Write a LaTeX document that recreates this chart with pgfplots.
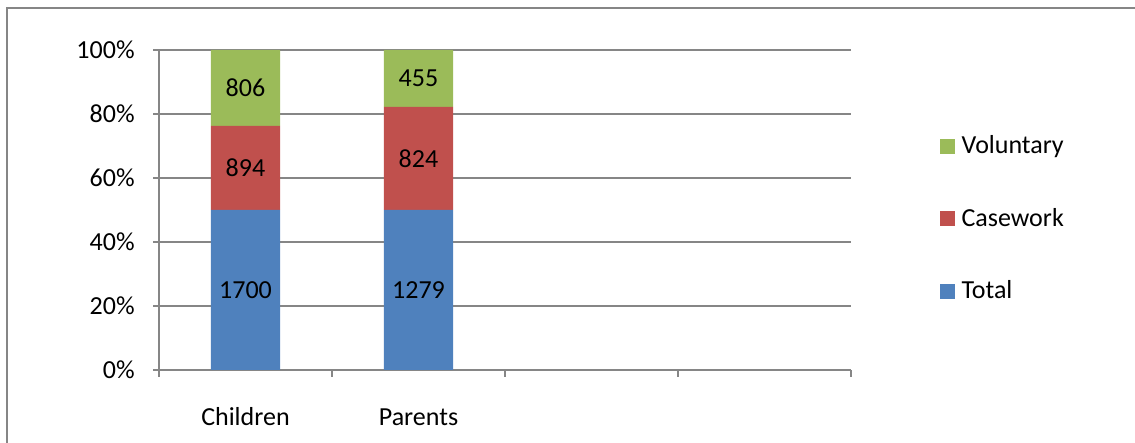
\documentclass[border=0pt]{standalone}
\usepackage{pgfplots}
\pgfplotsset{compat=1.18}
\usepackage{fontspec}
\setmainfont{Carlito}
\definecolor{cTotal}{HTML}{4F81BD}
\definecolor{cCase}{HTML}{C0504D}
\definecolor{cVol}{HTML}{9BBB59}
\definecolor{axgray}{HTML}{868686}
\newcommand{\cf}{\fontsize{13pt}{15.6pt}\selectfont}
\begin{document}
\begin{tikzpicture}
\cf
\path[use as bounding box] (0,0) rectangle (567.5pt,221.5pt);
\draw[axgray, line width=1pt] (3.5pt,0pt) -- (3.5pt,217.5pt);
\draw[axgray, line width=1pt] (3pt,217.5pt) -- (567.5pt,217.5pt);
\pgfplotsset{common/.style={
  scale only axis, width=346pt, height=160pt,
  at={(79.5pt,36.5pt)}, anchor=south west,
  xmin=-0.5, xmax=3.5, ymin=0, ymax=100,
}}
\begin{axis}[common,
  ybar stacked, bar width=34.5pt,
  axis lines*=left,
  axis line style={-, draw=axgray, line width=0.9pt},
  ymajorgrids, grid style={draw=axgray, line width=0.7pt},
  ytick={0,20,40,60,80,100},
  yticklabel={\pgfmathprintnumber{\tick}\%},
  xtick={0,1}, xticklabels={Children,Parents},
  minor xtick={-0.5,0.5,1.5,2.5,3.5},
  tick align=outside,
  major tick length=3pt, minor tick length=3.5pt,
  major x tick style={draw=none},
  minor x tick style={draw=axgray, line width=0.9pt},
  major y tick style={draw=axgray, line width=0.9pt},
  /pgf/number format/assume math mode=true,
  tick label style={font=\cf, text=black},
  yticklabel style={anchor=east, inner sep=0pt, xshift=-9pt},
  xticklabel style={anchor=base, inner sep=0pt, yshift=-25pt},
  legend style={at={(1.128,0.472)}, anchor=west, draw=none, fill=none,
    inner sep=0pt, outer sep=0pt, row sep=25.5pt, font=\cf,
    nodes={inner sep=0pt},
    /tikz/every odd column/.append style={column sep=3.5pt}},
  legend cell align=left,
  reverse legend,
]
\addplot[fill=cTotal, draw=none, legend image code/.code={\fill[cTotal] (0pt,-3.75pt) rectangle (7.5pt,3.75pt);}]
  coordinates {(0,50) (1,50)};
\addlegendentry{Total}
\addplot[fill=cCase, draw=none, legend image code/.code={\fill[cCase] (0pt,-3.75pt) rectangle (7.5pt,3.75pt);}]
  coordinates {(0,26.294) (1,32.213)};
\addlegendentry{Casework}
\addplot[fill=cVol, draw=none, legend image code/.code={\fill[cVol] (0pt,-3.75pt) rectangle (7.5pt,3.75pt);}]
  coordinates {(0,23.706) (1,17.787)};
\addlegendentry{Voluntary}
\end{axis}
\begin{axis}[common, hide axis]
\addplot[only marks, mark=none, nodes near coords, point meta=explicit symbolic,
  every node near coord/.append style={anchor=center, inner sep=0pt, text=black, font=\cf}]
  coordinates {(0,25)[1700] (1,25)[1279]
               (0,63.147)[894] (1,66.107)[824]
               (0,88.147)[806] (1,91.107)[455]};
\end{axis}
\end{tikzpicture}
\end{document}
